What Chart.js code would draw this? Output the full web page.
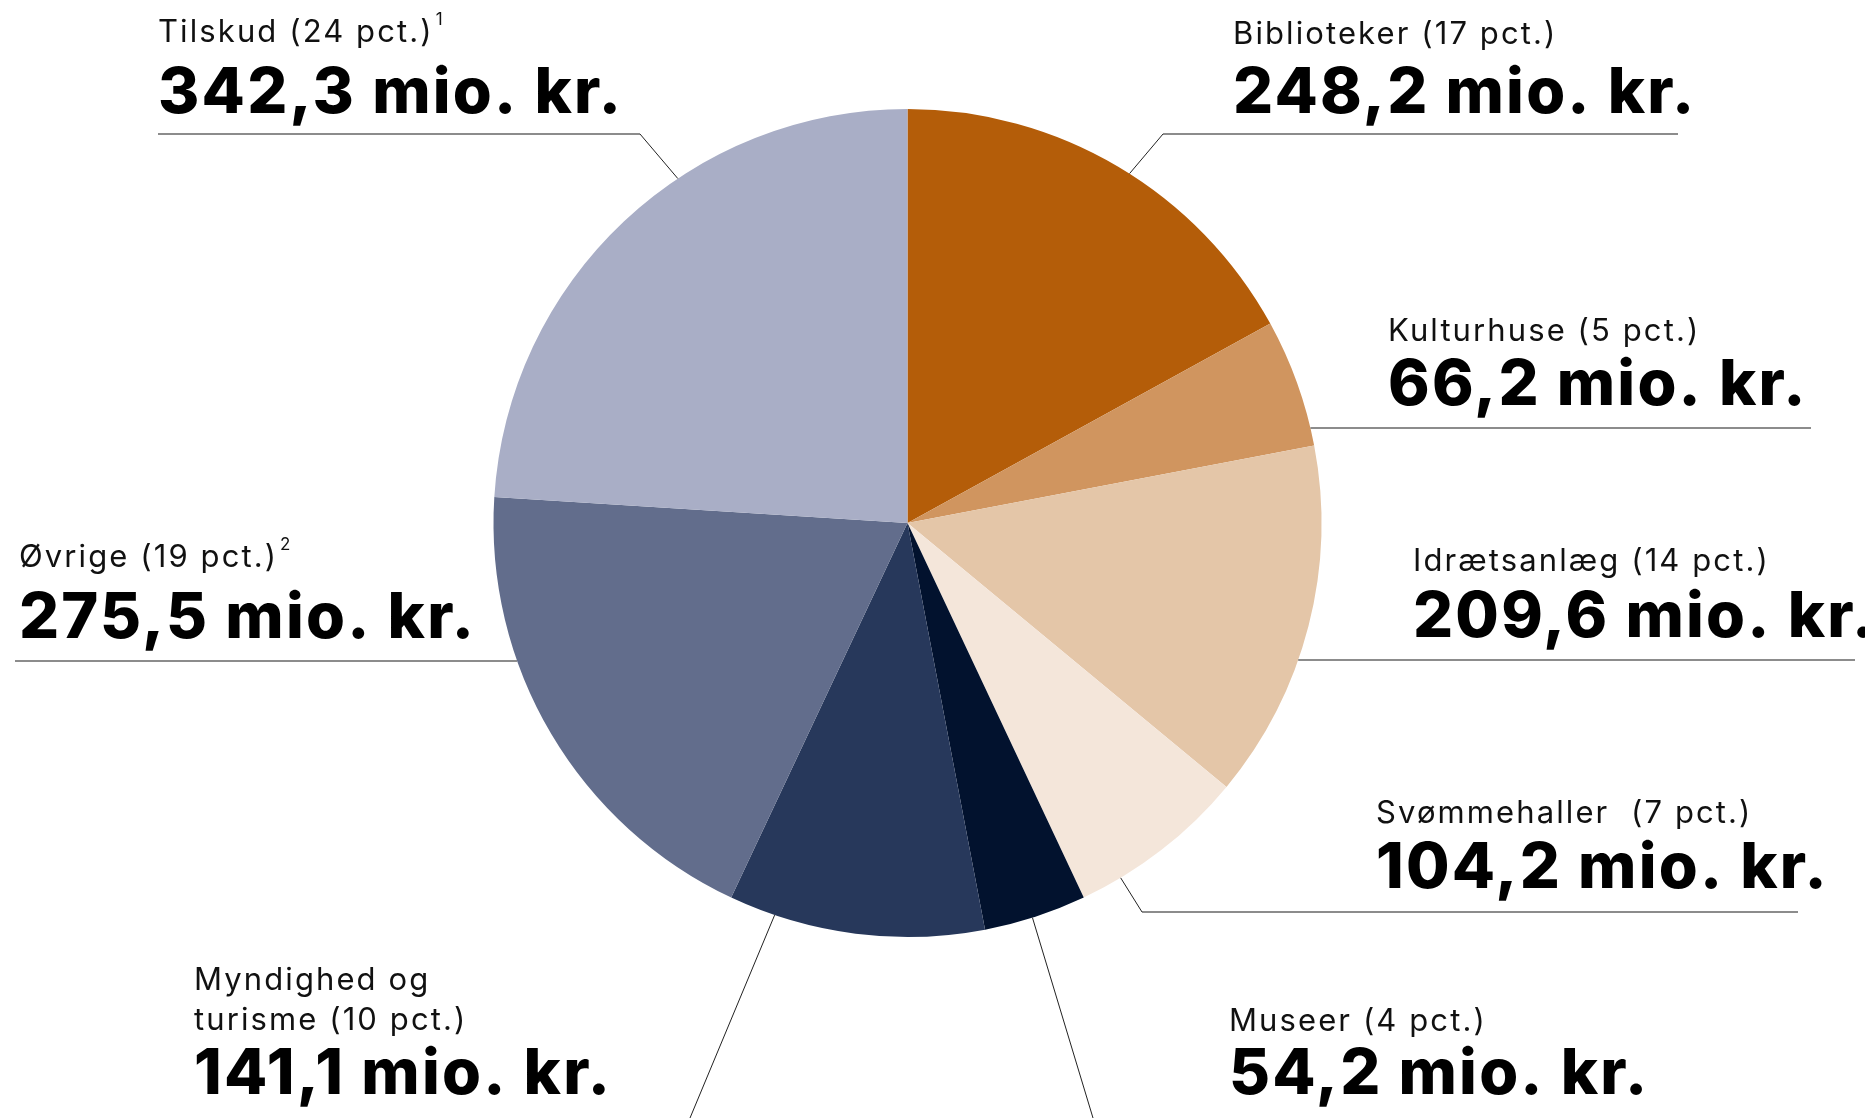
<!DOCTYPE html>
<html>
<head>
<meta charset="utf-8">
<script src="https://cdn.jsdelivr.net/npm/chart.js@4.4.1/dist/chart.umd.min.js"></script>
<style>
  html, body { margin: 0; padding: 0; background: #fff; }
  #wrap { width: 1865px; height: 1118px; position: relative; }
</style>
</head>
<body>
<div id="wrap"><canvas id="pie"></canvas></div>
<script>
// --- Data ---
const categories = ['Biblioteker', 'Kulturhuse', 'Idrætsanlæg', 'Svømmehaller', 'Museer', 'Myndighed og turisme', 'Øvrige', 'Tilskud'];
const amounts = [248.2, 66.2, 209.6, 104.2, 54.2, 141.1, 275.5, 342.3];
// the slices are drawn from the rounded shares
const pctShares = [17, 5, 14, 7, 4, 10, 19, 24];
const footnotes = ['', '', '', '', '', '', '2', '1'];
const sliceColors = ['#b45d09', '#d0955f', '#e4c6a8', '#f4e6da', '#02122e', '#27385b', '#626d8c', '#a9aec6'];

// label text lines (Myndighed wraps on two lines)
const labelLines = [
  ['Biblioteker (17 pct.)'],
  ['Kulturhuse (5 pct.)'],
  ['Idrætsanlæg (14 pct.)'],
  ['Svømmehaller  (7 pct.)'],
  ['Museer (4 pct.)'],
  ['Myndighed og', 'turisme (10 pct.)'],
  ['Øvrige (19 pct.)'],
  ['Tilskud (24 pct.)'],
];

// --- Layout of the labels and leader lines ---
const labelLayout = [
  { x: 1233, regY: [44], boldY: 113, lead: { type: 'elbow', y: 134, x1: 1163, x2: 1678, from: 'x1', frac: 0.53 } },
  { x: 1388, regY: [341], boldY: 405, lead: { type: 'edge', y: 428, far: 1811 } },
  { x: 1413, regY: [571], boldY: 637, lead: { type: 'edge', y: 660, far: 1855 } },
  { x: 1376, regY: [823], boldY: 888, lead: { type: 'elbow', y: 912, x1: 1142, x2: 1798, from: 'x1', frac: 0.77 } },
  { x: 1229, regY: [1031], boldY: 1094, lead: { type: 'ray', frac: 0.53, ex: 1093, ey: 1118 } },
  { x: 194, regY: [990, 1030], boldY: 1094, lead: { type: 'ray', frac: 0.82, ex: 690, ey: 1118 } },
  { x: 19, regY: [567], boldY: 638, lead: { type: 'edge', y: 661, far: 15 } },
  { x: 158, regY: [42], boldY: 113, lead: { type: 'elbow', y: 134, x1: 158, x2: 640, from: 'x2', frac: 0.61 } },
];

const FONT_REG = '400 31px Inter, "Noto Sans", sans-serif';
const FONT_SUP = '400 17px Inter, "Noto Sans", sans-serif';
const FONT_BOLD = '800 63px Inter, "Noto Sans", sans-serif';
const SPACING_REG = '2.1px';
const SPACING_BOLD = '2.2px';

function formatAmount(v) {
  return v.toFixed(1).replace('.', ',') + ' mio. kr.';
}

const leaderLabels = {
  id: 'leaderLabels',
  afterDraw(chart) {
    const ctx = chart.ctx;
    const arcs = chart.getDatasetMeta(0).data;
    ctx.save();
    arcs.forEach((arc, i) => {
      const L = labelLayout[i];
      const cx = arc.x, cy = arc.y, R = arc.outerRadius;
      const lead = L.lead;

      // leader line
      if (lead.type === 'edge') {
        const dy = lead.y - cy;
        const dx = Math.sqrt(R * R - dy * dy);
        const ex = lead.far > cx ? cx + dx : cx - dx;
        ctx.strokeStyle = '#666';
        ctx.lineWidth = 1.5;
        ctx.beginPath();
        ctx.moveTo(lead.far, lead.y);
        ctx.lineTo(ex, lead.y);
        ctx.stroke();
      } else {
        const a = arc.startAngle + lead.frac * (arc.endAngle - arc.startAngle);
        const px = cx + R * Math.cos(a), py = cy + R * Math.sin(a);
        if (lead.type === 'elbow') {
          const bx = lead[lead.from];
          ctx.strokeStyle = '#666';
          ctx.lineWidth = 1.5;
          ctx.beginPath();
          ctx.moveTo(lead.x1, lead.y);
          ctx.lineTo(lead.x2, lead.y);
          ctx.stroke();
          ctx.strokeStyle = '#222';
          ctx.lineWidth = 1;
          ctx.beginPath();
          ctx.moveTo(bx, lead.y);
          ctx.lineTo(px, py);
          ctx.stroke();
        } else {
          ctx.strokeStyle = '#222';
          ctx.lineWidth = 1;
          ctx.beginPath();
          ctx.moveTo(px, py);
          ctx.lineTo(lead.ex, lead.ey);
          ctx.stroke();
        }
      }

      // texts
      ctx.textAlign = 'left';
      ctx.textBaseline = 'alphabetic';
      ctx.fillStyle = '#111';
      ctx.font = FONT_REG;
      ctx.letterSpacing = SPACING_REG;
      labelLines[i].forEach((t, k) => {
        ctx.fillText(t, L.x, L.regY[k]);
        if (footnotes[i] && k === labelLines[i].length - 1) {
          const w = ctx.measureText(t).width;
          ctx.font = FONT_SUP;
          ctx.letterSpacing = '0px';
          ctx.fillText(footnotes[i], L.x + w + 2, L.regY[k] - 17);
          ctx.font = FONT_REG;
          ctx.letterSpacing = SPACING_REG;
        }
      });
      ctx.fillStyle = '#000';
      ctx.font = FONT_BOLD;
      ctx.letterSpacing = SPACING_BOLD;
      ctx.fillText(formatAmount(amounts[i]), L.x, L.boldY);
    });
    ctx.restore();
  }
};

const canvas = document.getElementById('pie');
canvas.width = 1865;
canvas.height = 1118;

new Chart(canvas, {
  type: 'pie',
  data: {
    labels: categories,
    datasets: [{
      data: pctShares,
      backgroundColor: sliceColors,
      borderWidth: 0,
      hoverOffset: 0,
    }]
  },
  options: {
    responsive: false,
    animation: false,
    layout: { padding: { left: 493.5, right: 543.5, top: 109, bottom: 181 } },
    plugins: {
      legend: { display: false },
      tooltip: { enabled: false },
    },
  },
  plugins: [leaderLabels],
});
</script>
</body>
</html>
